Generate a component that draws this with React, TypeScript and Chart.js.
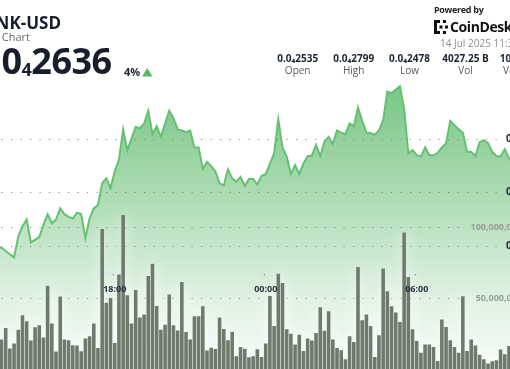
import React, { useEffect, useRef } from "react";
import { Chart, registerables } from "chart.js";

Chart.register(...registerables);

// 10-minute buckets (visible window of the 24h chart)
const timeLabels = [
  "13:20", "13:30", "13:40", "13:50",
  "14:00", "14:10", "14:20", "14:30", "14:40", "14:50",
  "15:00", "15:10", "15:20", "15:30", "15:40", "15:50",
  "16:00", "16:10", "16:20", "16:30", "16:40", "16:50",
  "17:00", "17:10", "17:20", "17:30", "17:40", "17:50",
  "18:00", "18:10", "18:20", "18:30", "18:40", "18:50",
  "19:00", "19:10", "19:20", "19:30", "19:40", "19:50",
  "20:00", "20:10", "20:20", "20:30", "20:40", "20:50",
  "21:00", "21:10", "21:20", "21:30", "21:40", "21:50",
  "22:00", "22:10", "22:20", "22:30", "22:40", "22:50",
  "23:00", "23:10", "23:20", "23:30", "23:40", "23:50",
  "00:00", "00:10", "00:20", "00:30", "00:40", "00:50",
  "01:00", "01:10", "01:20", "01:30", "01:40", "01:50",
  "02:00", "02:10", "02:20", "02:30", "02:40", "02:50",
  "03:00", "03:10", "03:20", "03:30", "03:40", "03:50",
  "04:00", "04:10", "04:20", "04:30", "04:40", "04:50",
  "05:00", "05:10", "05:20", "05:30", "05:40", "05:50",
  "06:00", "06:10", "06:20", "06:30", "06:40", "06:50",
  "07:00", "07:10", "07:20", "07:30", "07:40", "07:50",
  "08:00", "08:10", "08:20", "08:30", "08:40", "08:50",
  "09:00", "09:10", "09:20", "09:30", "09:40", "09:50",
  "10:00",
];

// BONK price in units of 0.0₄0001 (i.e. x 1e-8 USD)
const priceE8 = [
  2498, 2496, 2490, 2484, 2478, 2517, 2536, 2549, 2506, 2511,
  2516, 2539, 2559, 2542, 2549, 2570, 2559, 2554, 2551, 2562,
  2559, 2514, 2551, 2570, 2576, 2617, 2626, 2608, 2639, 2661,
  2718, 2679, 2701, 2723, 2720, 2729, 2753, 2709, 2724, 2704,
  2729, 2753, 2739, 2718, 2716, 2713, 2716, 2684, 2684, 2644,
  2657, 2649, 2639, 2617, 2613, 2643, 2626, 2620, 2629, 2612,
  2625, 2625, 2615, 2631, 2634, 2654, 2673, 2737, 2684, 2667,
  2634, 2651, 2634, 2654, 2668, 2669, 2689, 2668, 2695, 2704,
  2691, 2716, 2712, 2709, 2729, 2724, 2759, 2734, 2712, 2711,
  2708, 2716, 2736, 2789, 2786, 2793, 2799, 2758, 2673, 2679,
  2670, 2667, 2684, 2670, 2669, 2674, 2684, 2692, 2734, 2726,
  2718, 2712, 2676, 2676, 2668, 2694, 2698, 2692, 2676, 2668,
  2667, 2681, 2664, 2657, 2661,
];

// Volume in millions
const volumeM = [
  25.0, 20.7, 28.9, 14.4, 17.9, 27.7, 37.8, 33.6, 20.0, 29.4,
  30.8, 22.1, 58.7, 32.0, 12.3, 51.0, 20.7, 20.2, 16.7, 16.5,
  12.5, 21.4, 23.0, 32.0, 14.8, 98.6, 46.7, 50.0, 18.3, 66.5,
  108.5, 51.9, 32.0, 55.6, 36.2, 38.4, 65.5, 74.2, 44.3, 27.7,
  31.1, 52.4, 30.8, 27.1, 61.3, 26.0, 20.7, 37.1, 37.1, 44.2,
  13.1, 14.9, 14.0, 36.2, 28.1, 20.2, 26.3, 8.9, 15.5, 14.2,
  8.2, 8.9, 13.9, 8.5, 17.9, 51.4, 30.3, 67.0, 60.6, 28.0,
  24.9, 17.2, 24.2, 12.7, 21.4, 20.0, 25.4, 43.5, 27.0, 40.6,
  20.7, 14.8, 13.2, 6.8, 23.0, 19.0, 71.8, 34.3, 38.3, 30.3,
  8.5, 23.7, 70.7, 54.7, 44.2, 39.7, 33.1, 96.1, 64.8, 28.0,
  19.7, 11.5, 17.2, 17.2, 15.5, 5.6, 34.8, 29.6, 20.2, 15.5,
  11.5, 51.2, 12.7, 20.7, 16.5, 10.1, 6.8, 3.8, 5.4, 6.1,
  13.7, 10.4, 16.2, 12.0, 15.0,
];

const xTickLabels = ["18:00", "00:00", "06:00"];
const priceTicks = [2500, 2600, 2700];
const volumeTicks = [50, 100];

const statValues = ["0.0₄2535", "0.0₄2799", "0.0₄2478", "4027.25 B", "106.27 M"];
const statNames = ["Open", "High", "Low", "Vol", "Vol USD"];

const CANVAS_LEFT = -5;
const CANVAS_W = 530;
const CANVAS_H = 369;
const FONT = "'Open Sans', 'Noto Sans', sans-serif";

function fmtPrice(v: number) {
  return "0.0\u2084" + String(v);
}
function fmtVol(v: number) {
  return (v * 1000000).toLocaleString("en-US");
}

export default function App() {
  const ref = useRef<HTMLCanvasElement>(null);

  useEffect(() => {
    const canvas = ref.current;
    if (!canvas) return;
    const px = (pageX: number) => pageX - CANVAS_LEFT;

    const decor = {
      id: "decor",
      beforeDatasetsDraw(chart: any) {
        const c = chart.ctx;
        const py = chart.scales.price;
        const vy = chart.scales.vol;
        c.save();
        c.strokeStyle = "rgba(115,120,115,0.8)";
        c.lineWidth = 1;
        c.setLineDash([1.2, 8.3]);
        priceTicks.forEach((v) => {
          const y = Math.round(py.getPixelForValue(v)) + 0.5;
          c.beginPath();
          c.moveTo(px(1.5), y);
          c.lineTo(px(501), y);
          c.stroke();
        });
        volumeTicks.forEach((v) => {
          const y = Math.round(vy.getPixelForValue(v)) + 0.5;
          c.beginPath();
          c.moveTo(px(1.5), y);
          c.lineTo(px(464), y);
          c.stroke();
        });
        c.restore();
      },
      beforeDatasetDraw(chart: any, args: any) {
        if (args.index !== 1) return;
        const c = chart.ctx;
        c.save();
        c.shadowColor = "rgba(255,255,255,1)";
        c.shadowBlur = 14;
        c.fillStyle = "#ffffff";
        args.meta.data.forEach((el: any) => {
          const w = el.width;
          c.fillRect(el.x - w / 2, el.y, w, el.base - el.y);
        });
        c.restore();
      },
      afterDatasetsDraw(chart: any) {
        const c = chart.ctx;
        const xs = chart.scales.x;
        const py = chart.scales.price;
        const vy = chart.scales.vol;
        c.save();
        // time labels
        c.font = `bold 9px ${FONT}`;
        c.textAlign = "center";
        c.textBaseline = "middle";
        xTickLabels.forEach((lab) => {
          const i = timeLabels.indexOf(lab);
          const x = xs.getPixelForValue(i);
          c.fillStyle = "rgba(120,125,120,0.9)";
          c.fillRect(x - 2, 274, 1.2, 1.2);
          c.fillStyle = "#2b3240";
          c.fillText(lab, x, 289);
        });
        // price labels
        c.font = `bold 10px ${FONT}`;
        c.textAlign = "left";
        c.fillStyle = "#1d2433";
        priceTicks.forEach((v) => {
          const y = py.getPixelForValue(v);
          c.fillText(fmtPrice(v), px(506), y);
        });
        // volume labels
        c.font = `bold 9px ${FONT}`;
        c.textAlign = "right";
        c.fillStyle = "#9a9d9a";
        volumeTicks.forEach((v) => {
          const y = vy.getPixelForValue(v);
          c.fillText(fmtVol(v), px(522), y);
        });
        c.restore();
      },
    };

    const chart = new Chart(canvas, {
      type: "bar",
      data: {
        labels: timeLabels,
        datasets: [
          {
            type: "line",
            data: priceE8,
            yAxisID: "price",
            borderColor: "#64c172",
            borderWidth: 2,
            pointRadius: 0,
            tension: 0,
            fill: "start",
            order: 0,
            backgroundColor: (ctx: any) => {
              const { chart } = ctx;
              const area = chart.chartArea;
              if (!area) return "rgba(76,178,92,0.3)";
              const g = chart.ctx.createLinearGradient(0, 85, 0, area.bottom);
              g.addColorStop(0, "rgba(76,178,92,0.75)");
              g.addColorStop(0.4, "rgba(76,178,92,0.45)");
              g.addColorStop(0.76, "rgba(76,178,92,0.17)");
              g.addColorStop(1, "rgba(76,178,92,0.05)");
              return g;
            },
          } as any,
          {
            type: "bar",
            data: volumeM,
            yAxisID: "vol",
            backgroundColor: "#6e7a6c",
            borderWidth: 0,
            barPercentage: 0.86,
            categoryPercentage: 1,
            order: 1,
          } as any,
        ],
      },
      options: {
        responsive: false,
        animation: false,
        events: [],
        layout: { padding: { left: 0.21, right: 5.54, top: 59, bottom: 0 } },
        plugins: {
          legend: { display: false },
          tooltip: { enabled: false },
          filler: { drawTime: "beforeDatasetsDraw" } as any,
        },
        scales: {
          x: { type: "category", display: false, offset: true },
          price: { type: "linear", display: false, position: "right", min: 2268.75, max: 2850 },
          vol: { type: "linear", display: false, position: "left", min: 0, max: 218.3 },
        },
      },
      plugins: [decor],
    } as any);

    return () => chart.destroy();
  }, []);

  const abs = (s: React.CSSProperties): React.CSSProperties => ({
    position: "absolute",
    lineHeight: 1,
    whiteSpace: "nowrap",
    margin: 0,
    ...s,
  });
  const colCenters = [297.7, 353.7, 409.5, 465.5, 521.5];

  return (
    <div
      style={{
        position: "fixed",
        left: 0,
        top: 0,
        width: 510,
        height: 369,
        overflow: "hidden",
        background: "#ffffff",
        fontFamily: FONT,
      }}
    >
      <canvas
        ref={ref}
        width={CANVAS_W}
        height={CANVAS_H}
        style={{ position: "absolute", left: CANVAS_LEFT, top: 0, width: CANVAS_W, height: CANVAS_H }}
      />
      {/* title block (right-anchored, left part cropped) */}
      <div style={abs({ left: -240, width: 301, top: 14.2, textAlign: "right", fontSize: 17, fontWeight: 700, color: "#161d2b" })}>
        BONK-USD
      </div>
      <div style={abs({ left: -240, width: 270, top: 30.9, textAlign: "right", fontSize: 11, color: "#666b73" })}>
        24 Hour Chart
      </div>
      <div style={abs({ left: -240, width: 351.7, top: 43, textAlign: "right", fontSize: 36, fontWeight: 700, color: "#161d2b", letterSpacing: -0.5 })}>
        0.0<span style={{ fontSize: 18, verticalAlign: -2 }}>4</span>2636
      </div>
      <div style={abs({ left: 124, top: 66.2, fontSize: 11, fontWeight: 700, color: "#1d2433" })}>4%</div>
      <svg style={{ position: "absolute", left: 141.7, top: 68.3 }} width={10.5} height={8.6}>
        <polygon points="5.25,0 10.5,8.6 0,8.6" fill="#5cb96a" />
      </svg>
      {/* stats */}
      {statValues.map((v, i) => (
        <div key={"v" + i} style={abs({ left: colCenters[i] - 50, width: 100, textAlign: "center", top: 53.4, fontSize: 10, fontWeight: 700, color: "#1b2231" })}>
          {v}
        </div>
      ))}
      {statNames.map((v, i) => (
        <div key={"n" + i} style={abs({ left: colCenters[i] - 50, width: 100, textAlign: "center", top: 65.1, fontSize: 10, color: "#555a60" })}>
          {v}
        </div>
      ))}
      {/* branding */}
      <div style={abs({ left: 434, top: 4.5, fontSize: 9, fontWeight: 700, color: "#222", letterSpacing: -0.3 })}>Powered by</div>
      <svg style={{ position: "absolute", left: 434, top: 19.5 }} width={14} height={14}>
        <rect x={0} y={0} width={3} height={14} fill="#111" />
        <rect x={0} y={0} width={6} height={3} fill="#111" />
        <rect x={0} y={11} width={6} height={3} fill="#111" />
        <rect x={9} y={0} width={3} height={3} fill="#111" />
        <rect x={9} y={11} width={3} height={3} fill="#111" />
        <rect x={5.5} y={5.5} width={3} height={3} fill="#111" />
        <rect x={11} y={5.5} width={3} height={3} fill="#111" />
      </svg>
      <div style={abs({ left: 450, top: 20, fontSize: 14, fontWeight: 700, color: "#111", letterSpacing: -0.4 })}>CoinDesk</div>
      <div style={abs({ left: 440, top: 37.8, fontSize: 10, color: "#8a8e93" })}>14 Jul 2025 11:32 UTC</div>
    </div>
  );
}
